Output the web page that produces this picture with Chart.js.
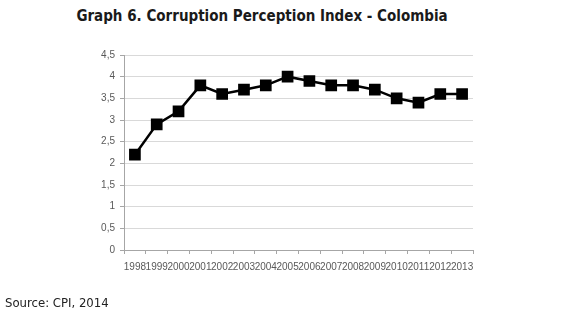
<!DOCTYPE html>
<html>
<head>
<meta charset="utf-8">
<script src="https://cdn.jsdelivr.net/npm/chart.js@4.4.1/dist/chart.umd.min.js"></script>
<style>
  body { margin: 0; background: #fff; width: 580px; height: 317px; position: relative; overflow: hidden; }
  #title { position: absolute; top: 7px; left: 0; width: 524px; text-align: center;
    font: bold 15px "DejaVu Sans Condensed", "DejaVu Sans", sans-serif; color: #1a1a1a; }
  #source { position: absolute; left: 5px; top: 295px;
    font: 13px "DejaVu Sans Condensed", "DejaVu Sans", sans-serif; color: #222; }
  #wrap { position: absolute; left: 0; top: 0; width: 580px; height: 317px; }
</style>
</head>
<body>
<div id="title">Graph 6. Corruption Perception Index - Colombia</div>
<div id="wrap"><canvas id="chart"></canvas></div>
<div id="source">Source: CPI, 2014</div>
<script>
const years = ["1998", "1999", "2000", "2001", "2002", "2003", "2004", "2005",
  "2006", "2007", "2008", "2009", "2010", "2011", "2012", "2013"];
const cpiValues = [2.2, 2.9, 3.2, 3.8, 3.6, 3.7, 3.8, 4.0, 3.9, 3.8, 3.8, 3.7, 3.5, 3.4, 3.6, 3.6];
const yMin = 0;
const yMax = 4.5;
const yStep = 0.5;

const ctx = document.getElementById("chart").getContext("2d");

new Chart(ctx, {
  type: "line",
  data: {
    labels: years,
    datasets: [{
      label: "CPI",
      data: cpiValues,
      borderColor: "#000",
      backgroundColor: "#000",
      borderWidth: 2.5,
      pointStyle: "rect",
      pointRadius: 6.5,
      pointHoverRadius: 6.5,
      tension: 0,
    }],
  },
  options: {
    responsive: true,
    maintainAspectRatio: false,
    animation: false,
    layout: { padding: { left: 94, right: 107, top: 55, bottom: 42 } },
    plugins: {
      legend: { display: false },
      tooltip: { enabled: false },
    },
    scales: {
      x: {
        offset: true,
        grid: { display: true, offset: true, drawOnChartArea: false, drawTicks: true, tickLength: 4, color: "#a6a6a6" },
        border: { color: "#a6a6a6" },
        ticks: {
          autoSkip: false, maxRotation: 0, minRotation: 0, padding: 7,
          color: "#595959", font: { family: "Liberation Sans", size: 10 },
        },
        afterFit: (s) => { s.height = 25; },
      },
      y: {
        min: yMin,
        max: yMax,
        grid: { color: "#d9d9d9", tickColor: "#a6a6a6", tickLength: 4 },
        border: { color: "#a6a6a6" },
        ticks: {
          stepSize: yStep, padding: 5,
          color: "#595959", font: { family: "Liberation Sans", size: 10 },
          callback: (v) => String(v).replace(".", ","),
        },
        afterFit: (s) => { s.width = 30; },
      },
    },
  },
});
</script>
</body>
</html>
